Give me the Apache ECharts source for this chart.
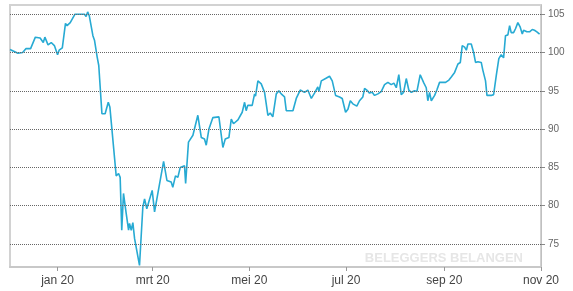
<!DOCTYPE html>
<html>
<head>
<meta charset="utf-8">
<script src="https://cdn.jsdelivr.net/npm/echarts@6/dist/echarts.min.js"></script>
<style>html,body{margin:0;padding:0;background:#fff}#c{width:573px;height:291px}</style>
</head>
<body>
<div id="c"></div>
<script>
// days since 2020-01-01
var days = [-30,-25,-22,-20,-17,-14,-11,-9,-8,-6,-4,-2,0,1,3,5,6,8,11,17,18,19,20,22.3,23.3,25,26,28,30,32,33,37,38.5,39.5,40.5,41.6,43.3,44.8,45.4,46.5,47.5,48.6,51.7,53.8,54.9,56.3,59.7,61.2,62.3,66.9,69,71.7,72.7,74.4,75.9,77.4,80.1,80.8,82.6,85.4,88.5,90.7,92.7,93.8,95.5,98,101.8,102.8,104.3,105.8,108.1,109.6,111,113.8,116.5,118,119,120,122.8,124.3,124.9,126.4,128.5,130.6,132.7,134.2,135.8,138,139.6,141.1,143.2,144.3,145.3,148.5,150.6,153.1,155.8,157.9,160.1,162.1,164.2,164.9,166.4,169.1,171.6,173.3,175.4,177.9,179.6,181.7,183.2,184.7,186.3,188.8,190.5,192.6,193.7,195.1,196.8,198.5,200,202.1,204.2,206.3,208.4,210.5,212.2,213.7,215.3,216.8,218.3,220,221.6,223.2,225.2,226.7,228.8,230.9,232.6,233.6,234.7,235.8,237.9,239.3,241,242.1,244.8,246.9,248.4,250.5,252.6,254.1,255.3,256.8,257.9,258.9,261,262.5,263.7,265.2,267.3,268.3,270,270.9,273.6,275.1,276.8,278.4,279.9,281.4,282.6,284.1,285.2,286.2,287.7,288.9,290.4,291.9,293.2,294,296.1,297.8,299.5,300.9,302.4,304.1];
var values = [100.4,99.9,100.0,100.5,100.5,102.0,101.9,101.3,102.0,101.0,101.3,100.9,99.7,100.3,100.6,103.8,103.5,103.9,105.0,105.0,104.7,105.3,104.8,102.2,101.6,99.4,98.3,92.0,92.0,93.5,92.9,83.9,84.2,83.7,76.8,81.6,79.0,76.8,77.7,76.8,77.8,75.7,72.2,79.8,80.9,79.6,82.0,79.2,79.4,85.8,83.3,83.1,82.4,83.9,83.7,85.0,85.2,82.9,88.3,89.2,91.8,88.9,88.7,87.9,90.0,91.5,91.6,91.6,87.6,88.7,88.9,91.3,90.7,91.2,92.2,93.5,92.4,93.1,93.1,94.6,94.3,96.3,95.9,94.8,91.8,92.1,91.6,94.6,95.0,94.6,94.2,92.4,92.2,92.4,94.0,95.1,94.8,95.1,94.0,94.7,95.5,94.9,96.3,96.6,96.9,96.3,94.4,94.2,94.0,92.2,92.6,93.7,93.3,93.0,93.7,94.2,95.3,95.1,94.7,94.8,94.4,94.6,94.9,95.8,96.1,95.8,96.0,95.4,97.1,94.5,94.8,96.6,95.1,94.8,95.0,94.9,97.1,96.1,95.4,93.7,94.8,93.7,94.4,95.1,96.1,96.3,96.1,96.4,96.8,97.4,98.5,98.7,100.9,100.7,100.3,101.1,101.1,100.0,98.7,98.8,98.7,97.7,96.3,94.4,94.4,94.5,97.0,99.2,99.7,99.3,102.2,102.3,103.5,102.6,102.6,103.1,103.9,103.3,102.4,102.9,102.7,102.7,103.0,102.9,102.7,102.4];
var xTickDays = [0, 60, 121, 182, 244, 305];
var xTickLabels = ['jan 20', 'mrt 20', 'mei 20', 'jul 20', 'sep 20', 'nov 20'];
var yTicks = [75, 80, 85, 90, 95, 100, 105];

var chart = echarts.init(document.getElementById('c'), null, {renderer: 'canvas'});
var pts = days.map(function (d, i) { return [d, values[i]]; });
chart.setOption({
  animation: false,
  grid: {left: 10, right: 32, top: 5, bottom: 24, show: true, borderColor: '#d2d2d2', borderWidth: 2, backgroundColor: '#fff'},
  xAxis: {
    type: 'value', min: -30, max: 305,
    axisLine: {show: true, onZero: false, lineStyle: {color: '#c8c8c8', width: 2}},
    axisTick: {show: true, customValues: xTickDays, length: 4, lineStyle: {color: '#999'}},
    axisLabel: {
      customValues: xTickDays, margin: 8, color: '#444', fontSize: 12, fontFamily: 'Liberation Sans, Arial, sans-serif',
      formatter: function (v) { var i = xTickDays.indexOf(Math.round(v)); return i >= 0 ? xTickLabels[i] : ''; }
    },
    splitLine: {show: false}
  },
  yAxis: {
    type: 'value', position: 'right', min: 72, max: 106.2,
    axisLine: {show: true, onZero: false, lineStyle: {color: '#c0c0c0', width: 1}},
    axisTick: {show: true, customValues: yTicks, length: 4, lineStyle: {color: '#888'}},
    axisLabel: {customValues: yTicks, margin: 7, color: '#666', fontSize: 10, fontFamily: 'Liberation Sans, Arial, sans-serif'},
    splitLine: {show: false}
  },
  graphic: [{
    type: 'text', right: 50, bottom: 26,
    style: {text: 'BELEGGERS BELANGEN', fill: '#e6e6e6', font: 'bold 13px "Liberation Sans", Arial, sans-serif'}
  }],
  series: [{
    type: 'line', data: pts, symbol: 'none', smooth: false,
    lineStyle: {color: '#27aad3', width: 1.6},
    markLine: {
      silent: true, symbol: 'none', label: {show: false},
      lineStyle: {color: '#666', type: [1, 1], width: 1},
      data: yTicks.map(function (v) { return {yAxis: v}; })
    },
    z: 3
  }]
});
</script>
</body>
</html>
